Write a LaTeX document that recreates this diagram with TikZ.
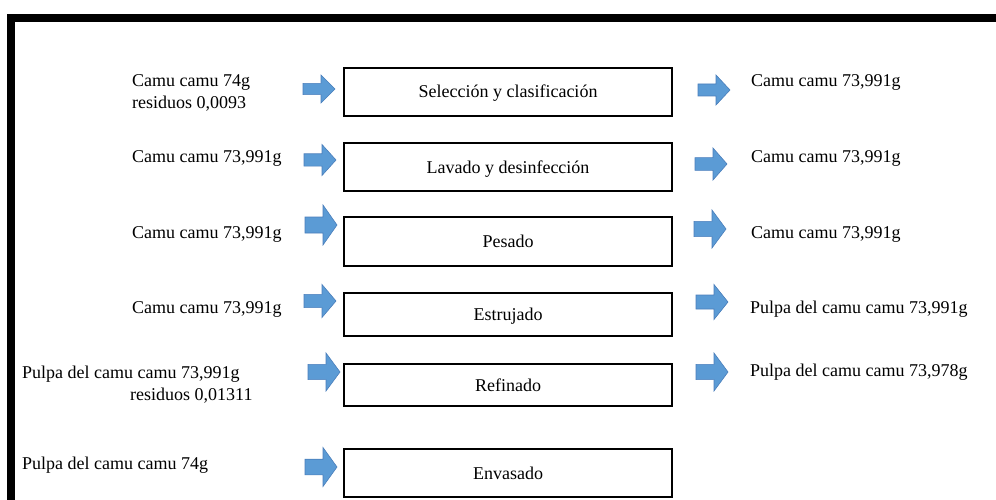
\documentclass[tikz,border=0pt]{standalone}
\usepackage{fontspec}
\setmainfont{Liberation Serif}
\definecolor{arrowfill}{HTML}{5B9BD5}
\definecolor{arrowline}{HTML}{4A7EBB}
\tikzset{
  stepbox/.style={draw, line width=2.4pt, minimum width=328pt, inner sep=0pt,
    text height=14pt, text depth=2pt, font=\fontsize{18}{21}\selectfont},
  lbl/.style={anchor=base west, inner sep=0pt, font=\fontsize{18}{21}\selectfont},
  blockarrow/.style={fill=arrowfill, draw=arrowline, line width=0.6pt},
  frameline/.style={fill=black}
}
\newcommand\BArrow[4]{% name, cx, cy, height
  \coordinate (#1) at (#2,#3);
  \draw[blockarrow] ({#2-16},{#3-0.2*#4}) -- ({#2+2},{#3-0.2*#4}) -- ({#2+2},{#3-0.5*#4})
    -- ({#2+16},{#3}) -- ({#2+2},{#3+0.5*#4}) -- ({#2+2},{#3+0.2*#4})
    -- ({#2-16},{#3+0.2*#4}) -- cycle;
}
\begin{document}
\begin{tikzpicture}[x=1pt,y=-1pt]
\useasboundingbox (0,0) rectangle (996,500);
% frame
\fill[frameline] (7,14) rectangle (996,22);
\fill[frameline] (7,14) rectangle (15,500);
% process boxes
\node[stepbox, minimum height=48pt] (b1) at (508,92) {Selección y clasificación};
\node[stepbox, minimum height=48pt] (b2) at (508,167) {Lavado y desinfección};
\node[stepbox, minimum height=49pt] (b3) at (508,241.5) {Pesado};
\node[stepbox, minimum height=43pt] (b4) at (508,314.5) {Estrujado};
\node[stepbox, minimum height=42pt] (b5) at (508,385) {Refinado};
\node[stepbox, minimum height=48pt] (b6) at (508,473) {Envasado};
% input arrows
\BArrow{la1}{319}{89}{28}
\BArrow{la2}{320}{160}{31}
\BArrow{la3}{321}{225}{40}
\BArrow{la4}{320}{301}{33}
\BArrow{la5}{324}{372}{38}
\BArrow{la6}{321}{467}{39}
% output arrows
\BArrow{ra1}{714}{90}{30}
\BArrow{ra2}{711}{164}{32}
\BArrow{ra3}{710}{229}{38}
\BArrow{ra4}{712}{302}{35}
\BArrow{ra5}{712}{372}{38}
% input labels
\node[lbl] (i1a) at (132,87) {Camu camu 74g};
\node[lbl] (i1b) at (132,109) {residuos 0,0093};
\node[lbl] (i2) at (132,163) {Camu camu 73,991g};
\node[lbl] (i3) at (132,238) {Camu camu 73,991g};
\node[lbl] (i4) at (132,313) {Camu camu 73,991g};
\node[lbl] (i5a) at (22,378) {Pulpa del camu camu 73,991g};
\node[lbl] (i5b) at (130,400) {residuos 0,01311};
\node[lbl] (i6) at (22,469) {Pulpa del camu camu 74g};
% output labels
\node[lbl] (o1) at (751,87) {Camu camu 73,991g};
\node[lbl] (o2) at (751,163) {Camu camu 73,991g};
\node[lbl] (o3) at (751,238) {Camu camu 73,991g};
\node[lbl] (o4) at (750,313) {Pulpa del camu camu 73,991g};
\node[lbl] (o5) at (750,376) {Pulpa del camu camu 73,978g};
\end{tikzpicture}
\end{document}
